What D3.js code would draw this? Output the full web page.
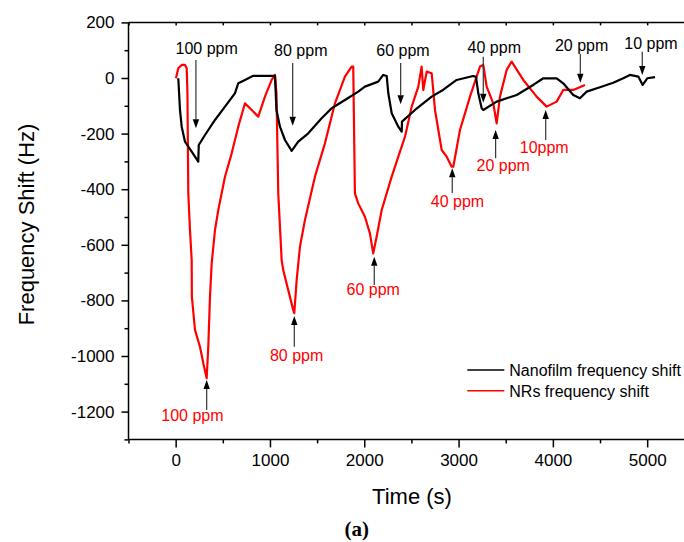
<!DOCTYPE html>
<html>
<head>
<meta charset="utf-8">
<script src="https://cdn.jsdelivr.net/npm/d3@7/dist/d3.min.js"></script>
<style>
  html, body { margin: 0; padding: 0; background: #fff; }
  svg { display: block; }
  text { font-family: "Liberation Sans", Arial, sans-serif; }
</style>
</head>
<body>
<svg id="chart" width="684" height="542"></svg>
<script>
// ---- Data (time in s, frequency shift in Hz) ----
const nanofilmTime = [28,46,64,99,170,240,245,311,417,523,628,664,735,823,1053,1069,1106,1159,1230,1300,1406,1548,1654,1795,1936,2007,2148,2201,2238,2255,2291,2361,2397,2400,2538,2715,2835,2980,3153,3185,3209,3245,3262,3404,3616,3792,3898,4040,4110,4216,4287,4358,4499,4640,4746,4817,4906,4952,5001,5083];
const nanofilmShift = [-1,-115,-175,-229,-265,-301,-241,-205,-151,-103,-55,-19,-7,8,8,-115,-175,-223,-262,-229,-199,-145,-109,-79,-49,-31,-13,11,7,-55,-127,-175,-193,-157,-115,-67,-43,-7,7,4,-55,-109,-115,-85,-61,-25,-1,-1,-19,-61,-73,-49,-33,-17,-1,11,5,-25,-1,3];

const nrsTime = [3,28,64,99,117,125,134,152,170,172,205,258,293,329,346,364,382,417,452,523,594,664,735,806,876,947,1018,1053,1069,1088,1124,1141,1194,1247,1258,1283,1318,1371,1477,1583,1689,1795,1866,1883,1901,1936,2007,2060,2095,2131,2185,2291,2361,2432,2503,2573,2608,2626,2662,2715,2750,2821,2874,2927,2944,3015,3121,3227,3262,3298,3368,3404,3439,3510,3563,3686,3828,3934,4040,4110,4216,4340];
const nrsShift = [-1,35,47,47,35,-54,-414,-547,-655,-787,-906,-967,-1026,-1080,-967,-787,-667,-547,-475,-355,-271,-175,-91,-115,-139,-67,-7,11,-55,-414,-655,-691,-763,-835,-846,-727,-607,-511,-355,-235,-91,5,41,41,-415,-451,-499,-559,-631,-571,-475,-355,-283,-211,-103,-31,41,-43,23,17,-115,-259,-283,-319,-319,-187,-67,41,47,-31,-91,-163,-67,29,59,-7,-67,-103,-85,-43,-43,-25];

const xTicks = [0,1000,2000,3000,4000,5000];
const xMinorTicks = [-500,500,1500,2500,3500,4500];
const yTicks = [200,0,-200,-400,-600,-800,-1000,-1200];
const yMinorTicks = [100,-100,-300,-500,-700,-900,-1100,-1300];

const seriesNames = ["Nanofilm frequency shift", "NRs frequency shift"];

// annotations: label, label position (t,v), arrow from (t,v0) to tip (t,v1)
const blackNotes = [
  {text:"100 ppm", lt:329,  lv:86,  at:215,  a0:65, a1:-181},
  {text:"80 ppm",  lt:1327, lv:79,  at:1241, a0:54, a1:-172},
  {text:"60 ppm",  lt:2410, lv:79,  at:2386, a0:54, a1:-94},
  {text:"40 ppm",  lt:3379, lv:89,  at:3262, a0:76, a1:-89},
  {text:"20 ppm",  lt:4305, lv:98,  at:4291, a0:86, a1:-17},
  {text:"10 ppm",  lt:5040, lv:103, at:4948, a0:94, a1:11}
];
const redNotes = [
  {text:"100 ppm", lt:178,  lv:-1233, at:329,  a0:-1194, a1:-1086},
  {text:"80 ppm",  lt:1283, lv:-1017, at:1258, a0:-967,  a1:-856},
  {text:"60 ppm",  lt:2095, lv:-781,  at:2106, a0:-745,  a1:-643},
  {text:"40 ppm",  lt:2988, lv:-463,  at:2933, a0:-414,  a1:-325},
  {text:"20 ppm",  lt:3474, lv:-333,  at:3393, a0:-289,  a1:-187},
  {text:"10ppm",   lt:3908, lv:-269,  at:3924, a0:-223,  a1:-115}
];

// ---- Drawing ----
const svg = d3.select("#chart");
const x = d3.scaleLinear().domain([-500, 5400]).range([128.5, 684.9]);
const y = d3.scaleLinear().domain([-1300, 200]).range([439.4, 22.4]);

const defs = svg.append("defs");
defs.append("clipPath").attr("id","clip").append("rect")
  .attr("x", x(-500)).attr("y", y(200)).attr("width", x(5400)-x(-500)).attr("height", y(-1300)-y(200));

// axes
const xAxis = d3.axisBottom(x).tickValues(xTicks).tickSize(8).tickPadding(7).tickSizeOuter(0).tickFormat(d3.format("d"));
const xMinor = d3.axisBottom(x).tickValues(xMinorTicks).tickSize(4).tickSizeOuter(0).tickFormat("");
const yAxis = d3.axisLeft(y).tickValues(yTicks).tickSize(7).tickPadding(7).tickSizeOuter(0).tickFormat(d => d3.format("d")(d).replace("−","-"));
const yMinor = d3.axisLeft(y).tickValues(yMinorTicks).tickSize(4).tickSizeOuter(0).tickFormat("");
const xTop = d3.axisTop(x).tickValues(xTicks.concat(xMinorTicks)).tickSize(-3).tickSizeOuter(0).tickFormat("");

function styleAxis(g){
  g.select(".domain").remove();
  g.selectAll(".tick line").attr("stroke","#000").attr("stroke-width",1.5);
  g.selectAll("text").attr("fill","#000").style("font-size","17px").style("font-family","'Liberation Sans', Arial, sans-serif");
}
svg.append("g").attr("transform",`translate(0,${y(-1300)})`).call(xAxis).call(styleAxis);
svg.append("g").attr("transform",`translate(0,${y(-1300)})`).call(xMinor).call(styleAxis);
svg.append("g").attr("transform",`translate(${x(-500)},0)`).call(yAxis).call(styleAxis);
svg.append("g").attr("transform",`translate(${x(-500)},0)`).call(yMinor).call(styleAxis);
svg.append("g").attr("transform",`translate(0,${y(200)})`).call(xTop).call(styleAxis);

// frame lines
svg.append("line").attr("x1",x(-500)).attr("x2",x(5400)).attr("y1",y(-1300)).attr("y2",y(-1300)).attr("stroke","#000").attr("stroke-width",1.5);
svg.append("line").attr("x1",x(-500)).attr("x2",x(5400)).attr("y1",y(200)).attr("y2",y(200)).attr("stroke","#000").attr("stroke-width",1.5);
svg.append("line").attr("x1",x(-500)).attr("x2",x(-500)).attr("y1",y(200)).attr("y2",y(-1300)).attr("stroke","#000").attr("stroke-width",1.5);

// series
const line = d3.line().x(d => x(d[0])).y(d => y(d[1]));
const plot = svg.append("g").attr("clip-path","url(#clip)");
plot.append("path").datum(nrsTime.map((t,i)=>[t,nrsShift[i]]))
  .attr("d", line).attr("fill","none").attr("stroke","#ff0000").attr("stroke-width",2.2).attr("stroke-linejoin","round");
plot.append("path").datum(nanofilmTime.map((t,i)=>[t,nanofilmShift[i]]))
  .attr("d", line).attr("fill","none").attr("stroke","#000").attr("stroke-width",2.2).attr("stroke-linejoin","round");

// annotations
function arrow(t, v0, v1){
  const X = x(t), Y0 = y(v0), Y1 = y(v1);
  const dir = Y1 > Y0 ? 1 : -1;
  const head = 9;
  svg.append("line").attr("x1",X).attr("x2",X).attr("y1",Y0).attr("y2",Y1 - dir*head)
    .attr("stroke","#333").attr("stroke-width",1.2);
  svg.append("path").attr("d",`M${X},${Y1} L${X-3.2},${Y1-dir*head} L${X+3.2},${Y1-dir*head} Z`).attr("fill","#000");
}
blackNotes.forEach(n => {
  svg.append("text").attr("x",x(n.lt)).attr("y",y(n.lv)).attr("text-anchor","middle")
    .style("font-size","16px").attr("fill","#000").text(n.text);
  arrow(n.at, n.a0, n.a1);
});
redNotes.forEach(n => {
  svg.append("text").attr("x",x(n.lt)).attr("y",y(n.lv)).attr("text-anchor","middle")
    .style("font-size","16px").attr("fill","#ff0000").text(n.text);
  arrow(n.at, n.a0, n.a1);
});

// legend
const legColors = ["#000","#ff0000"];
seriesNames.forEach((name,i) => {
  const ly = 370 + i*20.7;
  svg.append("line").attr("x1",467.3).attr("x2",504.3).attr("y1",ly).attr("y2",ly)
    .attr("stroke",legColors[i]).attr("stroke-width",1.5);
  svg.append("text").attr("x",509.3).attr("y",ly+6).style("font-size","16px").attr("fill","#000").text(name);
});

// axis titles
svg.append("text").attr("x",412).attr("y",504).attr("text-anchor","middle").style("font-size","22px").attr("fill","#000").text("Time (s)");
svg.append("text").attr("transform","translate(34,224.5) rotate(-90)").attr("text-anchor","middle").style("font-size","22px").attr("fill","#000").text("Frequency Shift (Hz)");
svg.append("text").attr("x",356.7).attr("y",536).attr("text-anchor","middle")
  .style("font-family","'Liberation Serif', 'DejaVu Serif', serif").style("font-weight","bold").style("font-size","21px").attr("fill","#000").text("(a)");
</script>
</body>
</html>
